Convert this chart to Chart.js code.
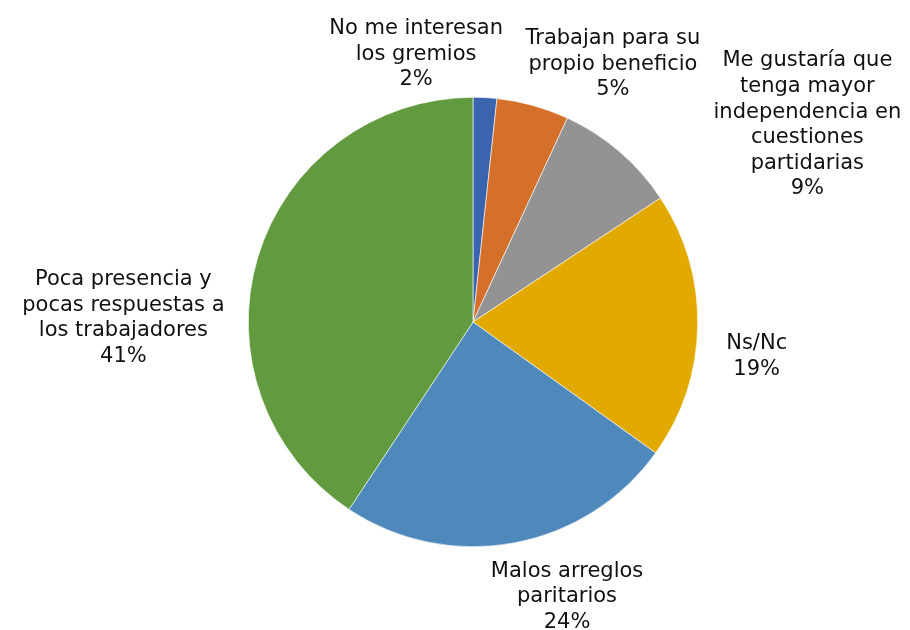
<!DOCTYPE html>
<html>
<head>
<meta charset="utf-8">
<script src="https://cdn.jsdelivr.net/npm/chart.js@4"></script>
<style>
  html, body { margin: 0; padding: 0; background: #fff; }
  #wrap { width: 910px; height: 630px; }
</style>
</head>
<body>
<div id="wrap"><canvas id="pieChart"></canvas></div>
<script>
const categories = [
  'No me interesan los gremios',
  'Trabajan para su propio beneficio',
  'Me gustaría que tenga mayor independencia en cuestiones partidarias',
  'Ns/Nc',
  'Malos arreglos paritarios',
  'Poca presencia y pocas respuestas a los trabajadores'
];
const values = [1.7, 5.2, 8.8, 19.2, 24.4, 40.7];
const percentLabels = ['2%', '5%', '9%', '19%', '24%', '41%'];

// how each category label wraps
const labelLines = [
  ['No me interesan', 'los gremios'],
  ['Trabajan para su', 'propio beneficio'],
  ['Me gustaría que', 'tenga mayor', 'independencia en', 'cuestiones', 'partidarias'],
  ['Ns/Nc'],
  ['Malos arreglos', 'paritarios'],
  ['Poca presencia y', 'pocas respuestas a', 'los trabajadores']
];

const colors = ['#3a64ae', '#d4702a', '#939393', '#e2aa00', '#4f89bc', '#629a3f'];

// label centre: [angle in degrees clockwise from top, distance as a multiple of the radius]
const labelPolar = [[-12, 1.218], [28.5, 1.305], [59.5, 1.727], [97, 1.272], [161.1, 1.292], [270.65, 1.556]];

const outsideLabels = {
  id: 'outsideLabels',
  afterDatasetsDraw(chart) {
    const ctx = chart.ctx;
    const arc = chart.getDatasetMeta(0).data[0];
    const cx = arc.x, cy = arc.y, r = arc.outerRadius;
    const lh = 25.6;
    ctx.save();
    ctx.font = '21px "DejaVu Sans", Verdana, sans-serif';
    ctx.fillStyle = '#111111';
    ctx.textAlign = 'center';
    ctx.textBaseline = 'middle';
    labelLines.forEach((lines, i) => {
      const all = lines.concat([percentLabels[i]]);
      const a = labelPolar[i][0] * Math.PI / 180;
      const d = labelPolar[i][1] * r;
      const x = cx + Math.sin(a) * d;
      const y = cy - Math.cos(a) * d;
      const top = y - (all.length - 1) * lh / 2;
      all.forEach((t, j) => ctx.fillText(t, x, top + j * lh));
    });
    ctx.restore();
  }
};

new Chart(document.getElementById('pieChart'), {
  type: 'pie',
  data: {
    labels: categories,
    datasets: [{
      data: values,
      backgroundColor: colors,
      borderColor: '#ffffff',
      borderWidth: 0.6
    }]
  },
  options: {
    responsive: true,
    maintainAspectRatio: false,
    animation: false,
    layout: { padding: { left: 248, right: 212, top: 97, bottom: 83 } },
    plugins: {
      legend: { display: false },
      tooltip: { enabled: false }
    }
  },
  plugins: [outsideLabels]
});
</script>
</body>
</html>
